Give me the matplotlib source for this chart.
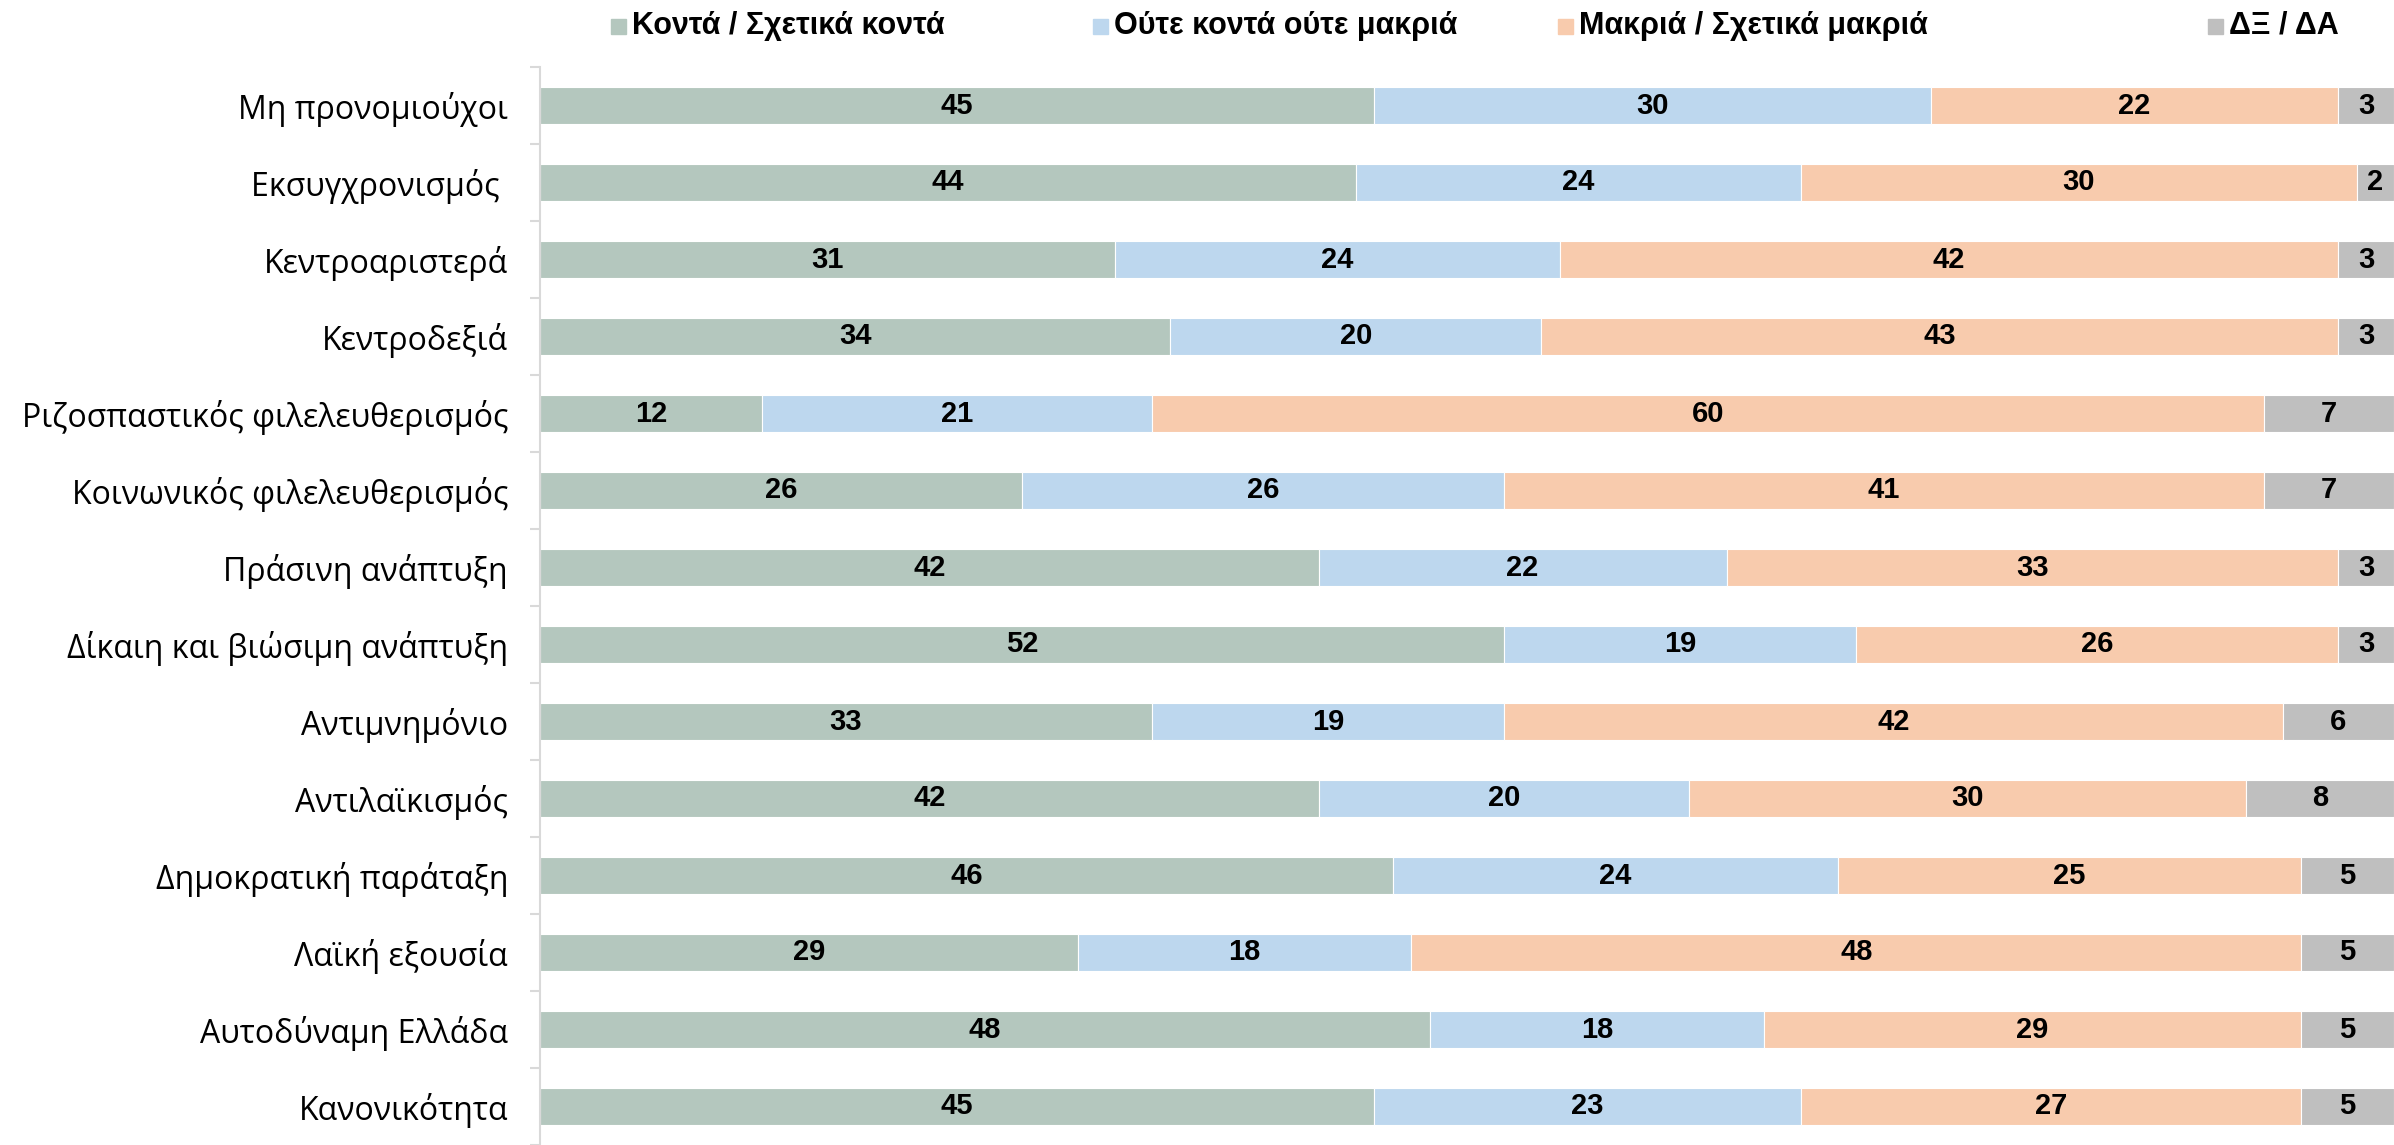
import matplotlib
matplotlib.use('Agg')
import matplotlib.pyplot as plt
from matplotlib.patches import Rectangle
import numpy as np

# data, top to bottom
categories = ['Μη προνομιούχοι', 'Εκσυγχρονισμός ', 'Κεντροαριστερά', 'Κεντροδεξιά',
              'Ριζοσπαστικός φιλελευθερισμός', 'Κοινωνικός φιλελευθερισμός',
              'Πράσινη ανάπτυξη', 'Δίκαιη και βιώσιμη ανάπτυξη', 'Αντιμνημόνιο',
              'Αντιλαϊκισμός', 'Δημοκρατική παράταξη', 'Λαϊκή εξουσία',
              'Αυτοδύναμη Ελλάδα', 'Κανονικότητα']
near = [45, 44, 31, 34, 12, 26, 42, 52, 33, 42, 46, 29, 48, 45]
neither = [30, 24, 24, 20, 21, 26, 22, 19, 19, 20, 24, 18, 18, 23]
far = [22, 30, 42, 43, 60, 41, 33, 26, 42, 30, 25, 48, 29, 27]
dkna = [3, 2, 3, 3, 7, 7, 3, 3, 6, 8, 5, 5, 5, 5]
series_names = ['Κοντά / Σχετικά κοντά', 'Ούτε κοντά ούτε μακριά',
                'Μακριά / Σχετικά μακριά', 'ΔΞ / ΔΑ']
colors = ['#b4c7be', '#bdd7ee', '#f8cbad', '#bfbfbf']

W, H = 2394, 1145
fig = plt.figure(figsize=(W / 100, H / 100), dpi=100)
ax = fig.add_axes([540 / W, 0, 1 - 540 / W, 1 - 67 / H])

label_font = ['Open Sans', 'DejaVu Sans']
num_font = ['Liberation Sans', 'DejaVu Sans']

y = np.arange(len(categories))
left = np.zeros(len(categories))
for vals, c in zip([near, neither, far, dkna], colors):
    vals = np.array(vals)
    ax.barh(y, vals, left=left, height=0.49, color=c, edgecolor='white', linewidth=0.8)
    for yi, l, v in zip(y, left, vals):
        ax.text(l + v / 2, yi, str(v), ha='center', va='center', fontsize=21,
                fontweight='bold', family=num_font, color='black')
    left += vals

ax.set_xlim(0, 100)
ax.set_ylim(13.41, -0.5)
ax.set_yticks(y)
ax.set_yticklabels(categories, family=label_font, fontsize=23)
ax.tick_params(axis='y', which='major', length=0, pad=23)
ax.set_yticks(np.arange(-0.5, len(categories) + 0.5, 1), minor=True)
ax.tick_params(axis='y', which='minor', length=7, width=1.5, color='#d9d9d9')
ax.set_xticks([])
for s in ['top', 'right', 'bottom']:
    ax.spines[s].set_visible(False)
ax.spines['left'].set_color('#d9d9d9')
ax.spines['left'].set_linewidth(1.5)

# legend on top
leg_x = [611, 1093, 1558, 2208]
for xs, name, c in zip(leg_x, series_names, colors):
    fig.patches.append(Rectangle((xs / W, 1 - 34 / H), 15 / W, 15 / H,
                                 transform=fig.transFigure, color=c))
    fig.text((xs + 21) / W, 1 - 26 / H, name, ha='left', va='center', fontsize=22,
             fontweight='bold', family=num_font)

fig.savefig('out.png', dpi=100)
